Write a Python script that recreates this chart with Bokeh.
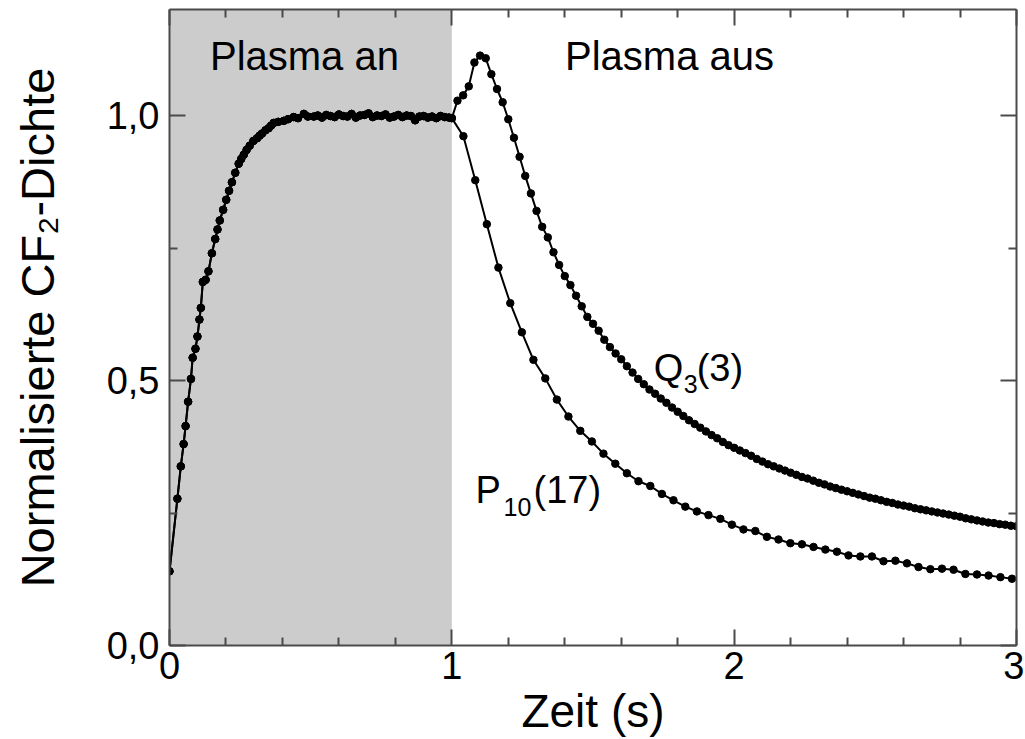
from bokeh.plotting import figure
from bokeh.models import (FixedTicker, CustomJSTickFormatter, LinearAxis, BoxAnnotation,
                          Label, Range1d)
from bokeh.embed import file_html
from bokeh.resources import INLINE

FONT = "Liberation Sans"

# ---------------- data ----------------
# Plasma-on phase (both lines coincide)
rise_t = [0.000, 0.028, 0.040, 0.050, 0.057, 0.066, 0.076, 0.082, 0.092, 0.099,
          0.106, 0.111, 0.118, 0.128, 0.138, 0.150, 0.162, 0.170, 0.178, 0.190,
          0.201, 0.211, 0.221, 0.233, 0.245, 0.254, 0.263, 0.273, 0.284, 0.297,
          0.310, 0.319, 0.328, 0.340, 0.351, 0.360, 0.369, 0.385, 0.405, 0.420,
          0.440, 0.455, 0.476, 0.490, 0.511, 0.525, 0.540, 0.555, 0.570, 0.585,
          0.600, 0.615, 0.630, 0.645, 0.660, 0.675, 0.690, 0.705, 0.720, 0.735,
          0.750, 0.765, 0.780, 0.795, 0.810, 0.825, 0.840, 0.855, 0.870, 0.885,
          0.900, 0.915, 0.930, 0.945, 0.960, 0.975, 0.990, 1.000]
rise_y = [0.140, 0.277, 0.338, 0.380, 0.414, 0.460, 0.503, 0.543, 0.560, 0.583,
          0.615, 0.637, 0.686, 0.690, 0.706, 0.740, 0.767, 0.785, 0.802, 0.822,
          0.841, 0.858, 0.874, 0.892, 0.909, 0.918, 0.926, 0.935, 0.943, 0.952,
          0.957, 0.962, 0.966, 0.972, 0.976, 0.981, 0.986, 0.988, 0.990, 0.993,
          0.997, 0.995, 1.003, 0.998, 0.998, 1.000, 0.996, 1.001, 0.999, 0.997,
          1.002, 0.999, 0.998, 1.003, 0.996, 1.000, 1.001, 1.004, 0.997, 1.000,
          0.999, 1.002, 0.996, 0.998, 1.001, 0.997, 1.000, 0.999, 0.991, 0.998,
          0.999, 0.996, 0.998, 0.995, 0.999, 0.997, 0.996, 0.995]

# Q3(3) after plasma off
q3_t = [1.02, 1.04, 1.06, 1.08, 1.10, 1.12, 1.14, 1.16, 1.18, 1.20,
        1.22, 1.24, 1.26, 1.28, 1.30, 1.32, 1.34, 1.36, 1.38, 1.40,
        1.42, 1.44, 1.46, 1.48, 1.50, 1.52, 1.54, 1.56, 1.58, 1.60,
        1.62, 1.64, 1.66, 1.68, 1.70, 1.72, 1.74, 1.76, 1.78, 1.80,
        1.82, 1.84, 1.86, 1.88, 1.90, 1.92, 1.94, 1.96, 1.98, 2.00,
        2.02, 2.04, 2.06, 2.08, 2.10, 2.12, 2.14, 2.16, 2.18, 2.20,
        2.22, 2.24, 2.26, 2.28, 2.30, 2.32, 2.34, 2.36, 2.38, 2.40,
        2.42, 2.44, 2.46, 2.48, 2.50, 2.52, 2.54, 2.56, 2.58, 2.60,
        2.62, 2.64, 2.66, 2.68, 2.70, 2.72, 2.74, 2.76, 2.78, 2.80,
        2.82, 2.84, 2.86, 2.88, 2.90, 2.92, 2.94, 2.96, 2.98, 3.00]
q3_y = [1.028, 1.038, 1.055, 1.100, 1.113, 1.108, 1.078, 1.050, 1.025, 0.993,
        0.958, 0.922, 0.886, 0.853, 0.820, 0.790, 0.770, 0.742, 0.718, 0.697,
        0.680, 0.660, 0.640, 0.620, 0.607, 0.594, 0.577, 0.563, 0.551, 0.540,
        0.527, 0.515, 0.503, 0.493, 0.483, 0.475, 0.466, 0.458, 0.449, 0.441,
        0.433, 0.425, 0.418, 0.411, 0.404, 0.397, 0.391, 0.384, 0.378, 0.373,
        0.368, 0.363, 0.358, 0.352, 0.347, 0.342, 0.338, 0.334, 0.330, 0.326,
        0.322, 0.318, 0.315, 0.311, 0.307, 0.304, 0.300, 0.297, 0.294, 0.291,
        0.288, 0.285, 0.282, 0.279, 0.277, 0.274, 0.271, 0.269, 0.266, 0.264,
        0.262, 0.259, 0.257, 0.255, 0.253, 0.251, 0.249, 0.247, 0.245, 0.243,
        0.240, 0.238, 0.236, 0.234, 0.232, 0.231, 0.229, 0.228, 0.226, 0.225]

# P10(17) after plasma off
p10_t = [1.041, 1.083, 1.124, 1.165, 1.207, 1.248, 1.289, 1.331, 1.372, 1.413,
         1.455, 1.496, 1.537, 1.579, 1.620, 1.661, 1.703, 1.744, 1.785, 1.827,
         1.868, 1.909, 1.951, 1.992, 2.033, 2.075, 2.116, 2.157, 2.199, 2.240,
         2.281, 2.323, 2.364, 2.405, 2.447, 2.488, 2.529, 2.571, 2.612, 2.653,
         2.695, 2.736, 2.777, 2.819, 2.860, 2.901, 2.943, 2.984]
p10_y = [0.961, 0.878, 0.795, 0.713, 0.646, 0.591, 0.539, 0.504, 0.464, 0.432,
         0.405, 0.385, 0.362, 0.343, 0.325, 0.310, 0.301, 0.286, 0.274, 0.262,
         0.253, 0.246, 0.239, 0.228, 0.219, 0.216, 0.205, 0.200, 0.193, 0.191,
         0.186, 0.181, 0.177, 0.170, 0.168, 0.168, 0.159, 0.160, 0.155, 0.148,
         0.144, 0.145, 0.143, 0.135, 0.134, 0.132, 0.129, 0.126]

plasma_on = (0.0, 1.0)
x_major = [0, 1, 2, 3]
x_minor = [0.2, 0.4, 0.6, 0.8, 1.2, 1.4, 1.6, 1.8, 2.2, 2.4, 2.6, 2.8]
y_major = [0.0, 0.5, 1.0]
y_minor = [0.25, 0.75]

# ---------------- figure ----------------
W, H = 1024, 739
p = figure(width=W, height=H, x_range=Range1d(0, 3), y_range=Range1d(0, 1.2),
           output_backend="svg", toolbar_location=None,
           min_border_left=169, min_border_right=W - 1016, min_border_top=9,
           min_border_bottom=H - 645)
p.grid.visible = False
p.outline_line_color = None
p.background_fill_color = "white"
p.border_fill_color = "white"

AX_COLOR = "#4a4a4a"


def style_axis(ax, ticks, minor, labels, fmt=None):
    ax.ticker = FixedTicker(ticks=ticks, minor_ticks=minor)
    ax.major_tick_in = 16
    ax.major_tick_out = 0
    ax.minor_tick_in = 8
    ax.minor_tick_out = 0
    ax.axis_line_color = AX_COLOR
    ax.axis_line_width = 2
    ax.major_tick_line_color = AX_COLOR
    ax.major_tick_line_width = 2
    ax.minor_tick_line_color = AX_COLOR
    ax.minor_tick_line_width = 2
    if labels:
        ax.formatter = fmt
        ax.major_label_text_font = FONT
        ax.major_label_text_font_size = "38px"
        ax.major_label_text_color = "black"
        ax.axis_label_text_font = FONT
        ax.axis_label_text_font_style = "normal"
        ax.axis_label_text_color = "black"
    else:
        ax.major_label_text_font_size = "0px"
        ax.major_label_text_color = None
        ax.major_label_standoff = 0


xfmt = CustomJSTickFormatter(code="return tick.toFixed(0);")
yfmt = CustomJSTickFormatter(code="return tick.toFixed(1).replace('.', ',');")

xa = p.xaxis[0]
style_axis(xa, x_major, x_minor, True, xfmt)
xa.major_label_standoff = 6
xa.axis_label = "Zeit (s)"
xa.axis_label_text_font_size = "46px"
xa.axis_label_standoff = 3

ya = p.yaxis[0]
style_axis(ya, y_major, y_minor, True, yfmt)
ya.major_label_standoff = 10
ya.axis_label = "Normalisierte CF\u2082-Dichte"
ya.axis_label_text_font_size = "47px"
ya.axis_label_standoff = 40

top = LinearAxis()
style_axis(top, x_major, x_minor, False)
p.add_layout(top, "above")
right = LinearAxis()
style_axis(right, y_major, y_minor, False)
p.add_layout(right, "right")

p.add_layout(BoxAnnotation(left=plasma_on[0], right=plasma_on[1], fill_color="#cccccc",
                           fill_alpha=1.0, line_color=None, level="underlay"))

q3_all_t = rise_t + q3_t
q3_all_y = rise_y + q3_y
p10_all_t = rise_t + p10_t
p10_all_y = rise_y + p10_y

for tt, yy in ((p10_all_t, p10_all_y), (q3_all_t, q3_all_y)):
    p.line(tt, yy, line_color="black", line_width=2)
    p.scatter(tt, yy, size=7.5, fill_color="black", line_color="black")

# ---------------- texts ----------------
def lab(**kw):
    base = dict(text_font=FONT, text_color="black", text_baseline="alphabetic")
    base.update(kw)
    p.add_layout(Label(**base))

lab(x=0.478, y=1.112, text="Plasma an", text_font_size="40px", text_align="center")
lab(x=1.771, y=1.112, text="Plasma aus", text_font_size="40px", text_align="center")

# Q3(3)
lab(x=1.715, y=0.523, text="Q", text_font_size="38px", text_align="left")
lab(x=1.715, x_offset=30, y=0.494, text="3", text_font_size="25px", text_align="left")
lab(x=1.715, x_offset=43, y=0.523, text="(3)", text_font_size="38px", text_align="left")

# P10(17)
lab(x=1.084, y=0.293, text="P", text_font_size="38px", text_align="left")
lab(x=1.084, x_offset=28, y=0.261, text="10", text_font_size="25px", text_align="left")
lab(x=1.084, x_offset=58, y=0.293, text="(17)", text_font_size="38px", text_align="left")

open("out.html", "w").write(file_html(p, INLINE))
